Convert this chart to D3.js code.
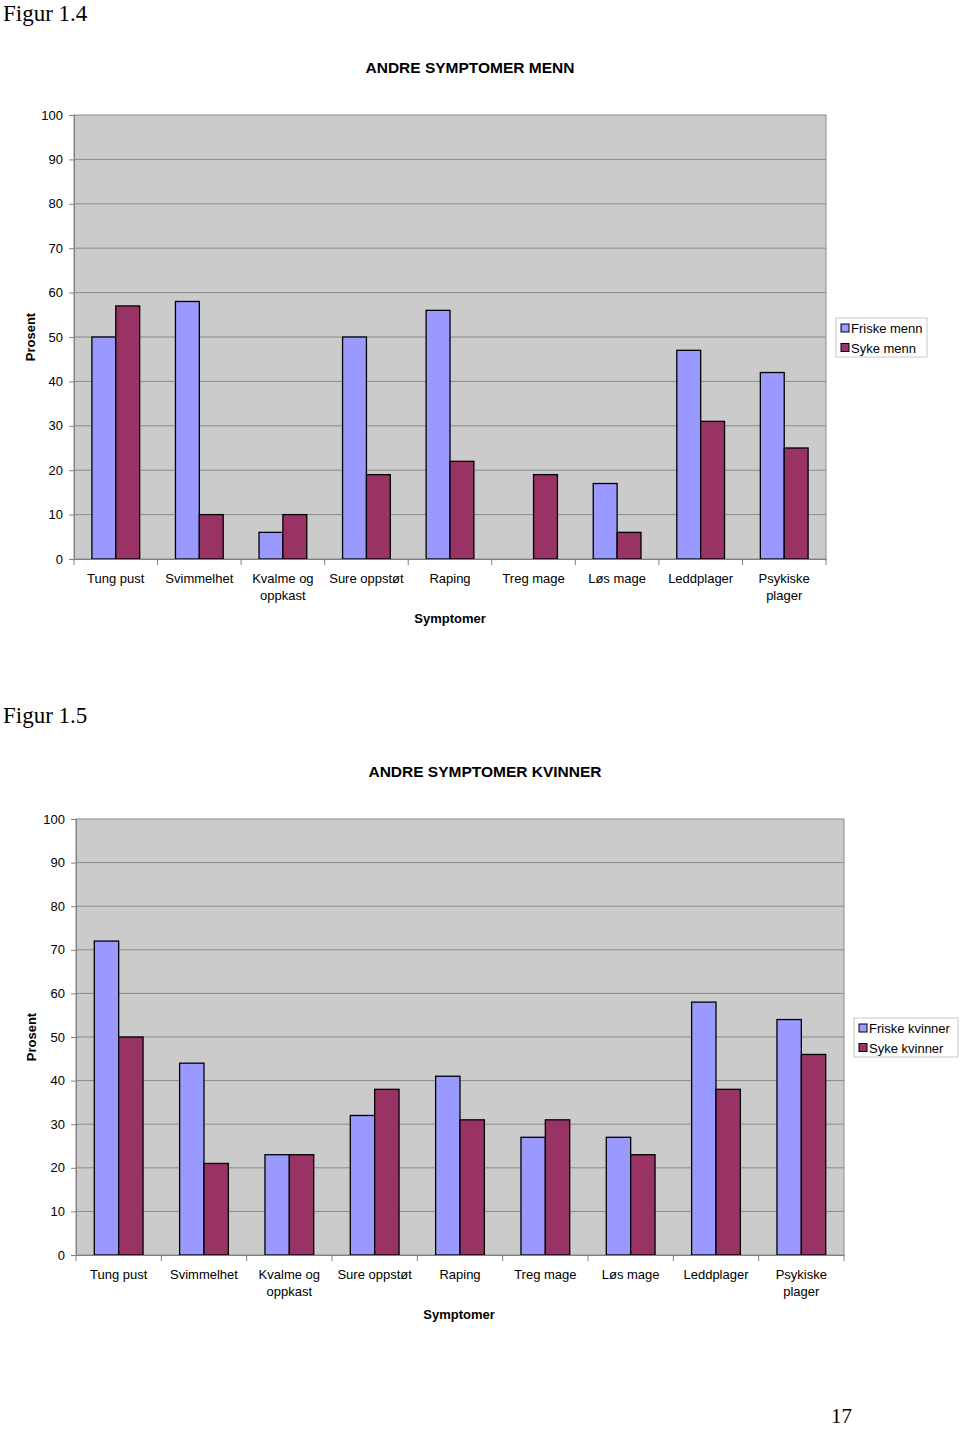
<!DOCTYPE html>
<html><head><meta charset="utf-8">
<script src="https://cdn.jsdelivr.net/npm/d3@7"></script>
<style>body{margin:0;background:#fff}svg{display:block}</style>
</head><body>
<svg id="chart" width="960" height="1429"></svg>
<script>
const categories = ["Tung pust","Svimmelhet","Kvalme og oppkast","Sure oppstøt","Raping","Treg mage","Løs mage","Leddplager","Psykiske plager"];
const friskeMenn = [50,58,6,50,56,0,17,47,42];
const sykeMenn   = [57,10,10,19,22,19,6,31,25];
const friskeKvinner = [72,44,23,32,41,27,27,58,54];
const sykeKvinner   = [50,21,23,38,31,31,23,38,46];
const yTicks = [0,10,20,30,40,50,60,70,80,90,100];
const catLines = {"Kvalme og oppkast":["Kvalme og","oppkast"],"Psykiske plager":["Psykiske","plager"]};

const svg = d3.select("#chart");
const sans = "Liberation Sans, Arial, sans-serif";
const serif = "Liberation Serif, Times New Roman, serif";

function chart(o){
  const g = svg.append("g");
  const x = d3.scaleBand().domain(categories).range([o.left,o.right]).paddingInner(0).paddingOuter(0);
  const y = d3.scaleLinear().domain([0,100]).range([o.bottom,o.top]);
  const bw = x.bandwidth()/3.5;
  const xs = d3.scaleBand().domain([0,1]).range([0.75*bw, 2.75*bw]);

  g.append("rect").attr("x",o.left).attr("y",o.top).attr("width",o.right-o.left).attr("height",o.bottom-o.top)
    .attr("fill","#cbcbcb").attr("stroke","#8c8c8c").attr("stroke-width",1);
  g.selectAll(".grid").data(yTicks.slice(1,-1)).join("line")
    .attr("x1",o.left).attr("x2",o.right).attr("y1",d=>y(d)).attr("y2",d=>y(d))
    .attr("stroke","#8a8a8a").attr("stroke-width",1);

  const series = [{vals:o.a,color:"#9999ff"},{vals:o.b,color:"#993366"}];
  series.forEach((s,si)=>{
    g.selectAll(null).data(categories.map((c,i)=>({c,v:s.vals[i]}))).join("rect")
      .filter(d=>d.v>0)
      .attr("x",d=>x(d.c)+xs(si)).attr("width",xs.bandwidth())
      .attr("y",d=>y(d.v)).attr("height",d=>y(0)-y(d.v))
      .attr("fill",s.color).attr("stroke","#000").attr("stroke-width",1.3);
  });

  // y axis
  const ya = d3.axisLeft(y).tickValues(yTicks).tickSize(5).tickPadding(6);
  const yg = g.append("g").attr("transform",`translate(${o.left},0)`).call(ya);
  yg.select(".domain").attr("stroke","#808080");
  yg.selectAll(".tick line").attr("stroke","#808080");
  yg.selectAll("text").attr("font-family",sans).attr("font-size",13).attr("fill","#000");

  // x axis
  const xa = d3.axisBottom(x).tickSize(0).tickFormat("");
  const xg = g.append("g").attr("transform",`translate(0,${o.bottom})`).call(xa);
  xg.select(".domain").attr("stroke","#808080");
  g.selectAll(null).data(categories.concat(["_end"])).join("line")
    .attr("x1",(d,i)=>o.left+i*x.bandwidth()).attr("x2",(d,i)=>o.left+i*x.bandwidth())
    .attr("y1",o.bottom).attr("y2",o.bottom+6).attr("stroke","#808080");
  categories.forEach(c=>{
    const lines = catLines[c]||[c];
    const t = g.append("text").attr("x",x(c)+x.bandwidth()/2).attr("y",o.bottom+24)
      .attr("text-anchor","middle").attr("font-family",sans).attr("font-size",13);
    lines.forEach((l,i)=>t.append("tspan").attr("x",x(c)+x.bandwidth()/2).attr("dy",i?17:0).text(l));
  });

  g.append("text").attr("x",o.titleX).attr("y",o.top-42).attr("text-anchor","middle")
    .attr("font-family",sans).attr("font-weight","bold").attr("font-size",15.5).text(o.title);
  g.append("text").attr("x",o.xtitleX).attr("y",o.bottom+64).attr("text-anchor","middle")
    .attr("font-family",sans).attr("font-weight","bold").attr("font-size",13).text("Symptomer");
  g.append("text").attr("transform",`translate(${o.ylabX},${y(50)}) rotate(-90)`).attr("text-anchor","middle")
    .attr("font-family",sans).attr("font-weight","bold").attr("font-size",13).text("Prosent");

  // legend
  const lg = g.append("g");
  lg.append("rect").attr("x",o.lx).attr("y",o.ly).attr("width",o.lw).attr("height",39)
    .attr("fill","#fff").attr("stroke","#c8c8c8");
  o.names.forEach((n,i)=>{
    lg.append("rect").attr("x",o.lx+5).attr("y",o.ly+6+i*19.5).attr("width",8).attr("height",8)
      .attr("fill",series[i].color).attr("stroke","#000").attr("stroke-width",1);
    lg.append("text").attr("x",o.lx+15).attr("y",o.ly+15+i*19.5)
      .attr("font-family",sans).attr("font-size",13).text(n);
  });
}

svg.append("text").attr("x",3).attr("y",21).attr("font-family",serif).attr("font-size",23).text("Figur 1.4");
svg.append("text").attr("x",3).attr("y",723).attr("font-family",serif).attr("font-size",23).text("Figur 1.5");
svg.append("text").attr("x",831).attr("y",1423).attr("font-family",serif).attr("font-size",21).text("17");

chart({left:74,right:826,top:115,bottom:559,a:friskeMenn,b:sykeMenn,title:"ANDRE SYMPTOMER MENN",titleX:470,xtitleX:450,ylabX:35,
  names:["Friske menn","Syke menn"],lx:836,ly:318,lw:91});
chart({left:76,right:844,top:819,bottom:1255,a:friskeKvinner,b:sykeKvinner,title:"ANDRE SYMPTOMER KVINNER",titleX:485,xtitleX:459,ylabX:36,
  names:["Friske kvinner","Syke kvinner"],lx:854,ly:1018,lw:104});
</script>
</body></html>
